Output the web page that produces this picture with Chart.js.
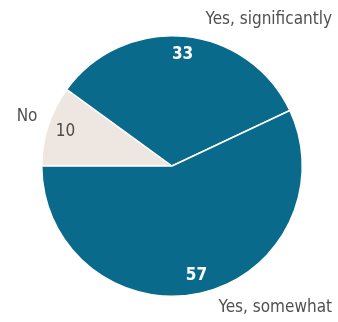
<!DOCTYPE html>
<html>
<head>
<meta charset="utf-8">
<script src="https://cdn.jsdelivr.net/npm/chart.js@4.4.0/dist/chart.umd.min.js"></script>
<style>
  html, body { margin: 0; padding: 0; background: #fff; }
  #wrap { width: 338px; height: 322px; position: relative; }
</style>
</head>
<body>
<div id="wrap"><canvas id="pie-chart"></canvas></div>
<script>
// data (clockwise, starting at 9 o'clock)
const categories = ['No', 'Yes, significantly', 'Yes, somewhat'];
const values = [10, 33, 57];
const sliceColors = ['#eee6e0', '#0a6a8c', '#0a6a8c'];
const valueColors = ['#4a4a4a', '#ffffff', '#ffffff'];

const FONT = '"Liberation Sans Narrow", "DejaVu Sans Condensed", "Roboto", sans-serif';

// draws the numbers inside the slices and the category names outside
const pieLabels = {
    id: 'pieLabels',
    afterDatasetsDraw(chart) {
        const c = chart.ctx;
        const arcs = chart.getDatasetMeta(0).data;
        c.save();
        c.textBaseline = 'middle';
        arcs.forEach((arc, i) => {
            const mid = (arc.startAngle + arc.endAngle) / 2;
            const r = arc.outerRadius * 0.86;
            const x = arc.x + Math.cos(mid) * r;
            const y = arc.y + Math.sin(mid) * r;
            c.fillStyle = valueColors[i];
            c.textAlign = 'center';
            c.font = (i === 0 ? 'normal ' : 'bold ') + '17px ' + FONT;
            c.fillText(values[i], x, y);

            // category names
            c.fillStyle = '#505050';
            c.font = 'normal 17px ' + FONT;
            c.textAlign = 'right';
            if (i === 0) {
                c.fillText(categories[i], x - 28, y - 15);
            } else {
                const ty = Math.sin(mid) < 0 ? 20 : chart.height - 14;
                c.fillText(categories[i], chart.width - 6, ty);
            }
        });
        c.restore();
    }
};

new Chart(document.getElementById('pie-chart'), {
    type: 'pie',
    data: {
        labels: categories,
        datasets: [{
            data: values,
            backgroundColor: sliceColors,
            borderColor: '#ffffff',
            borderWidth: 1.5
        }]
    },
    options: {
        responsive: true,
        maintainAspectRatio: false,
        animation: false,
        rotation: -90,
        layout: {
            padding: { left: 41, right: 35, top: 35, bottom: 25 }
        },
        plugins: {
            legend: { display: false },
            tooltip: { enabled: false }
        }
    },
    plugins: [pieLabels]
});
</script>
</body>
</html>
